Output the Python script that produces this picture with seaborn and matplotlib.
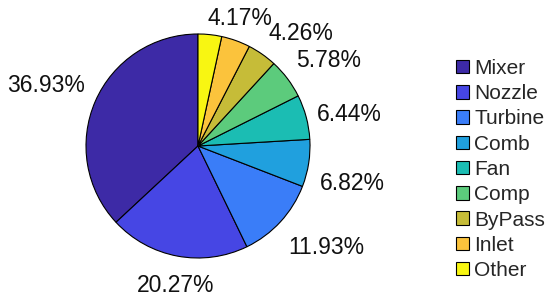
import numpy as np
import matplotlib
matplotlib.use("Agg")
import matplotlib.pyplot as plt
import seaborn as sns

components = ["Mixer", "Nozzle", "Turbine", "Comb", "Fan", "Comp", "ByPass", "Inlet", "Other"]
shares = [36.93, 20.27, 11.93, 6.82, 6.44, 5.78, 4.26, 4.17, 3.40]
pct_labels = ["36.93%", "20.27%", "11.93%", "6.82%", "6.44%", "5.78%", "4.26%", "4.17%", ""]
slice_colors = ["#3D2AA6", "#4646E4", "#3A7DF8", "#20A0DE", "#1BBDB3",
                "#5CCB7C", "#C6BC38", "#FBC33C", "#F8F612"]

sns.set_theme(style="white")
plt.rcParams["font.family"] = ["Liberation Sans", "DejaVu Sans"]

fig = plt.figure(figsize=(5.5, 2.99), dpi=100)
ax = fig.add_axes([86 / 550, 41 / 299, 224 / 550, 224 / 299])

palette = sns.color_palette(slice_colors)
wedges, texts = ax.pie(shares, labels=pct_labels, colors=palette, startangle=90,
                       counterclock=True, labeldistance=1.1,
                       wedgeprops=dict(edgecolor="black", linewidth=0.8),
                       textprops=dict(fontsize=16.5, color="#111111"))
ax.set_xlim(-1, 1)
ax.set_ylim(-1, 1)
ax.set_aspect("equal")

# matlab-like label alignment
for w, t in zip(wedges, texts):
    ang = np.deg2rad((w.theta1 + w.theta2) / 2)
    c, s = np.cos(ang), np.sin(ang)
    t.set_ha("center" if abs(c) < 0.4 else ("left" if c > 0 else "right"))
    t.set_va("bottom" if s > 0.3 else ("top" if s < -0.1 else "center"))
    if s < -0.1:
        x, y = t.get_position()
        t.set_position((x, y - 0.06))

fig.legend(wedges, components, loc="upper left", bbox_to_anchor=(456 / 550, 1 - 59 / 299),
           frameon=False, fontsize=15, handlelength=0.63, handleheight=0.63,
           handletextpad=0.25, labelspacing=0.3, borderpad=0, borderaxespad=0)

fig.savefig("out.png", dpi=100)
